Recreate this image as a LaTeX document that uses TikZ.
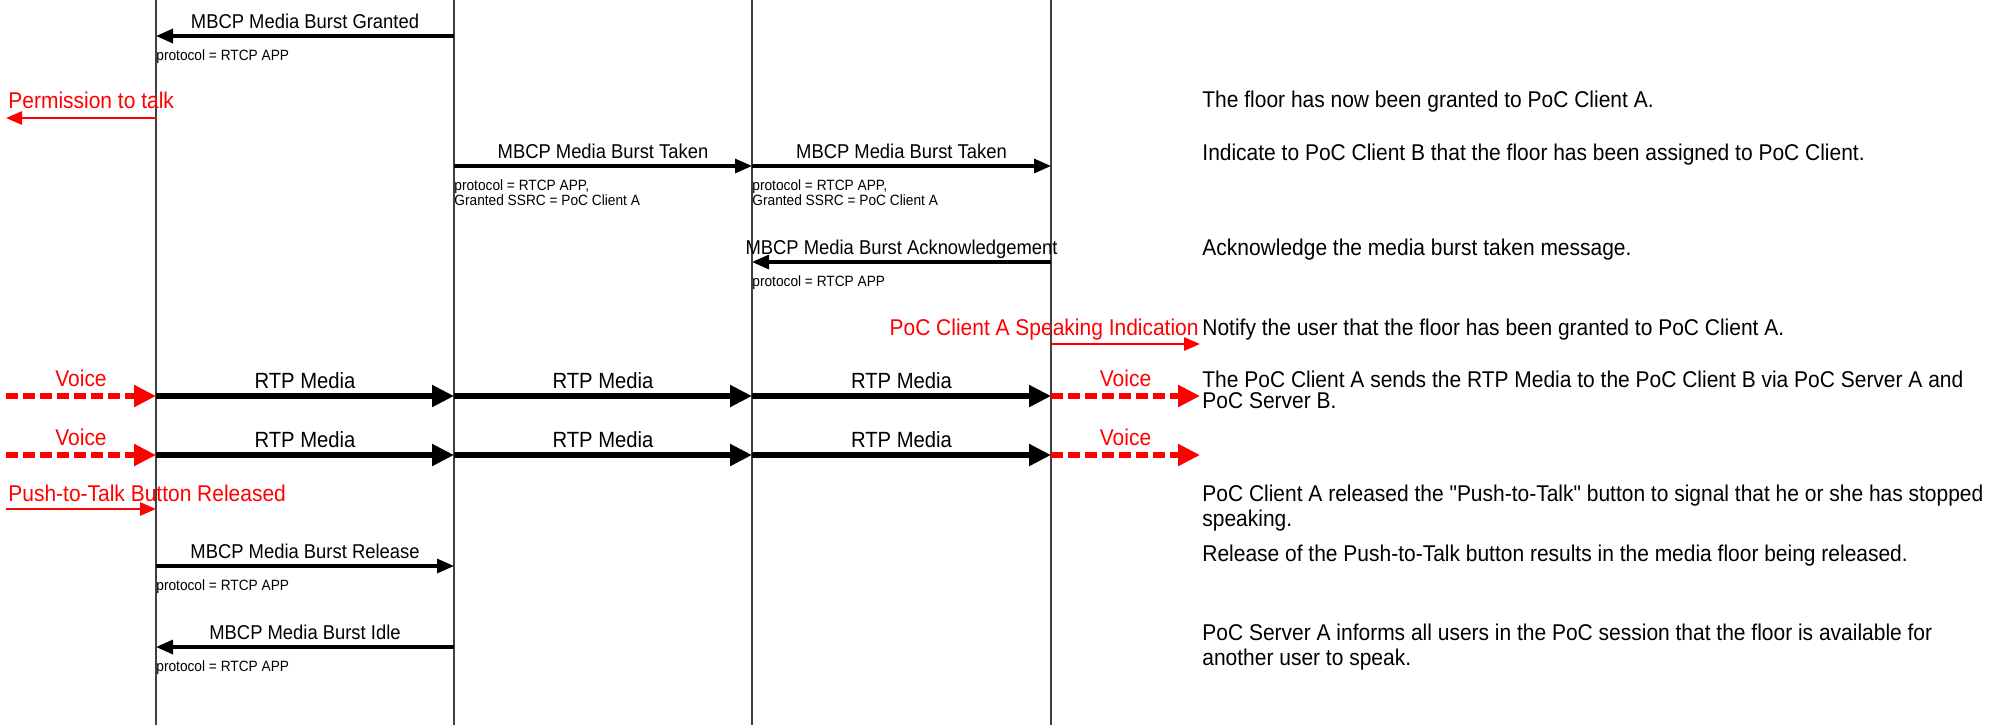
\documentclass[tikz,border=0pt]{standalone}
\usepackage{fontspec}
\setmainfont{Liberation Sans}[FakeStretch=0.92, Ligatures=TeXOff]
\usetikzlibrary{arrows.meta}

\begin{document}
\begin{tikzpicture}[
  x=0.5pt, y=-0.5pt,
  txt/.style={inner sep=0pt, text height=0.72em, text depth=0pt},
  lifeline/.style={black!75, line width=0.7pt},
  msg/.style={-{Triangle[length=8.5pt,width=7pt]}, line width=1.6pt},
  rtp/.style={-{Triangle[length=11pt,width=10.5pt]}, line width=2.6pt},
  voice/.style={rtp, red, dash pattern=on 6pt off 2.5pt},
  usr/.style={-{Triangle[length=8pt,width=6.5pt]}, red, line width=1.4pt},
  lbl/.style={txt, midway, anchor=base, yshift=4pt, font=\fontsize{10pt}{12pt}\selectfont},
  rtplbl/.style={lbl, font=\fontsize{11pt}{13pt}\selectfont},
  redtxt/.style={txt, red, font=\fontsize{11.4pt}{13pt}\selectfont},
  voicelbl/.style={redtxt, midway, anchor=base, yshift=4.6pt},
  proto/.style={inner sep=0pt, anchor=north west, yshift=-6.5pt, align=left,
    font=\fontsize{7.45pt}{7.5pt}\selectfont},
  desc/.style={txt, anchor=west, font=\fontsize{11.4pt}{13pt}\selectfont}
]
  \useasboundingbox (0,0) rectangle (2005,725);

  % lifelines
  \coordinate (uA) at (6,0);
  \coordinate (cA) at (156,0);
  \coordinate (sA) at (454,0);
  \coordinate (sB) at (752,0);
  \coordinate (cB) at (1051,0);
  \coordinate (uB) at (1200,0);
  \coordinate (bot) at (0,725);
  \foreach \l in {cA,sA,sB,cB}
    \draw[lifeline] (\l) -- (\l |- bot);

  % message rows
  \coordinate (r1) at (0,36);
  \coordinate (r2) at (0,118);
  \coordinate (r3) at (0,166);
  \coordinate (r4) at (0,262);
  \coordinate (r5) at (0,344);
  \coordinate (r6) at (0,396);
  \coordinate (r7) at (0,455);
  \coordinate (r8) at (0,509);
  \coordinate (r9) at (0,566);
  \coordinate (r10) at (0,647);

  \draw[msg] (sA |- r1) -- (cA |- r1) node[lbl] (m1) {MBCP Media Burst Granted};
  \node[proto] (p1) at (cA |- r1) {protocol = RTCP APP};

  \draw[usr] (cA |- r2) -- (uA |- r2)
    node[redtxt, pos=1, anchor=base west, yshift=5pt, xshift=0.5pt] (t1) {Permission to talk};

  \draw[msg] (sA |- r3) -- (sB |- r3) node[lbl] (m3a) {MBCP Media Burst Taken};
  \draw[msg] (sB |- r3) -- (cB |- r3) node[lbl] (m3b) {MBCP Media Burst Taken};
  \node[proto] (p3a) at (sA |- r3) {protocol = RTCP APP,\\Granted SSRC = PoC Client A};
  \node[proto] (p3b) at (sB |- r3) {protocol = RTCP APP,\\Granted SSRC = PoC Client A};

  \draw[msg] (cB |- r4) -- (sB |- r4) node[lbl] (m4) {MBCP Media Burst Acknowledgement};
  \node[proto] (p4) at (sB |- r4) {protocol = RTCP APP};

  \draw[usr] (cB |- r5) -- (uB |- r5)
    node[redtxt, pos=1, anchor=base east, yshift=4.5pt] (t5) {PoC Client A Speaking Indication};

  % media
  \foreach \r/\n in {r6/6,r7/7} {
    \draw[voice] (uA |- \r) -- (cA |- \r) node[voicelbl] (v\n a) {Voice};
    \draw[rtp] (cA |- \r) -- (sA |- \r) node[rtplbl] (m\n a) {RTP Media};
    \draw[rtp] (sA |- \r) -- (sB |- \r) node[rtplbl] (m\n b) {RTP Media};
    \draw[rtp] (sB |- \r) -- (cB |- \r) node[rtplbl] (m\n c) {RTP Media};
    \draw[voice] (cB |- \r) -- (uB |- \r) node[voicelbl] (v\n b) {Voice};
  }

  \draw[usr] (uA |- r8) -- (cA |- r8)
    node[redtxt, pos=0, anchor=base west, yshift=4pt, xshift=0.5pt] (t8) {Push-to-Talk Button Released};

  \draw[msg] (cA |- r9) -- (sA |- r9) node[lbl] (m9) {MBCP Media Burst Release};
  \node[proto] (p9) at (cA |- r9) {protocol = RTCP APP};

  \draw[msg] (sA |- r10) -- (cA |- r10) node[lbl] (m10) {MBCP Media Burst Idle};
  \node[proto] (p10) at (cA |- r10) {protocol = RTCP APP};

  % descriptions
  \node[desc] (d1) at (1202,100) {The floor has now been granted to PoC Client A.};
  \node[desc] (d2) at (1202,153) {Indicate to PoC Client B that the floor has been assigned to PoC Client.};
  \node[desc] (d3) at (1202,248) {Acknowledge the media burst taken message.};
  \node[desc] (d4) at (1202,328) {Notify the user that the floor has been granted to PoC Client A.};
  \node[desc] (d5) at (1202,380) {The PoC Client A sends the RTP Media to the PoC Client B via PoC Server A and};
  \node[desc] (d5b) at (1202,401) {PoC Server B.};
  \node[desc] (d6) at (1202,494) {PoC Client A released the "Push-to-Talk" button to signal that he or she has stopped};
  \node[desc] (d6b) at (1202,519) {speaking.};
  \node[desc] (d7) at (1202,554) {Release of the Push-to-Talk button results in the media floor being released.};
  \node[desc] (d8) at (1202,633) {PoC Server A informs all users in the PoC session that the floor is available for};
  \node[desc] (d8b) at (1202,658) {another user to speak.};
\end{tikzpicture}
\end{document}
